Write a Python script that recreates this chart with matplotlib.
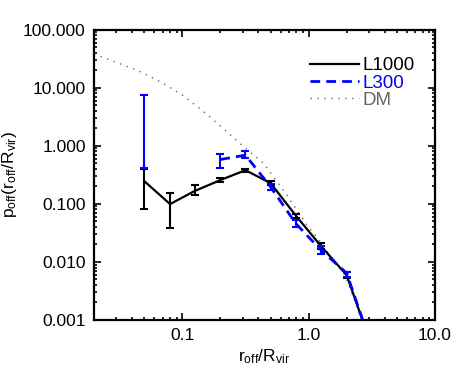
import numpy as np
import matplotlib
matplotlib.use("Agg")
import matplotlib.pyplot as plt
from matplotlib.ticker import LogLocator, FixedLocator, FixedFormatter, NullFormatter

plt.rcParams['font.family'] = ['Liberation Sans', 'DejaVu Sans']
plt.rcParams['mathtext.fontset'] = 'custom'
plt.rcParams['mathtext.rm'] = 'Liberation Sans'
plt.rcParams['mathtext.it'] = 'Liberation Sans'

# L1000 (black, solid)
l1000_x = [0.05, 0.08, 0.125, 0.2, 0.316, 0.5, 0.79, 1.25, 2.0, 3.16]
l1000_y = [0.246, 0.099, 0.166, 0.256, 0.38, 0.227, 0.063, 0.0188, 0.0059, 0.00035]
l1000_lo = [0.080, 0.038, 0.141, 0.235, 0.36, 0.21, 0.058, 0.017, 0.0053, 0.00035]
l1000_hi = [0.40, 0.151, 0.21, 0.28, 0.40, 0.245, 0.068, 0.021, 0.0066, 0.00035]

# L300 (blue, dashed); first bin has only an error bar
l300_x = [0.05, 0.2, 0.316, 0.5, 0.79, 1.25, 2.0, 3.16]
l300_y = [np.nan, 0.58, 0.69, 0.196, 0.046, 0.016, 0.0064, 0.00035]
l300_lo = [0.42, 0.42, 0.62, 0.175, 0.040, 0.0136, 0.0055, 0.00035]
l300_hi = [7.5, 0.72, 0.80, 0.22, 0.052, 0.0187, 0.0067, 0.00035]

# DM (gray, dotted)
dm_x = [0.02, 0.044, 0.067, 0.1, 0.147, 0.21, 0.3, 0.44, 0.66, 0.95, 1.2, 1.95, 2.8]
dm_y = [38, 20, 12.7, 7.5, 3.9, 2.0, 1.0, 0.5, 0.15, 0.046, 0.024, 0.0058, 0.0007]

xticks = [0.1, 1.0, 10.0]
xticklabels = ['0.1', '1.0', '10.0']
yticks = [0.001, 0.01, 0.1, 1, 10, 100]
yticklabels = ['0.001', '0.010', '0.100', '1.000', '10.000', '100.000']

fig = plt.figure(figsize=(4.63, 3.80), dpi=100)
ax = fig.add_axes([0.203, 0.158, 0.7365, 0.764])

ax.plot(dm_x, dm_y, color='#666666', lw=1.0, linestyle=(0, (1, 4)), label='DM')

ax.plot(l1000_x, l1000_y, color='black', lw=1.6, label='L1000')
ly = np.array(l1000_y)
ax.errorbar(l1000_x, ly, yerr=[ly - np.array(l1000_lo), np.array(l1000_hi) - ly],
            fmt='none', ecolor='black', elinewidth=1.5, capsize=3, capthick=1.5)

by = np.array(l300_y)
ax.plot(l300_x, by, color='#0000ff', lw=2.0, dashes=(3.5, 2.2), label='L300')
bmid = np.where(np.isnan(by), np.array(l300_lo), by)
ax.errorbar(l300_x, bmid, yerr=[bmid - np.array(l300_lo), np.array(l300_hi) - bmid],
            fmt='none', ecolor='#0000ff', elinewidth=1.5, capsize=3, capthick=1.5)

ax.set_xscale('log')
ax.set_yscale('log')
ax.set_xlim(0.02, 10)
ax.set_ylim(0.001, 100)

ax.xaxis.set_major_locator(FixedLocator(xticks))
ax.xaxis.set_major_formatter(FixedFormatter(xticklabels))
ax.yaxis.set_major_locator(FixedLocator(yticks))
ax.yaxis.set_major_formatter(FixedFormatter(yticklabels))
ax.xaxis.set_minor_locator(LogLocator(base=10, subs=np.arange(2, 10), numticks=20))
ax.yaxis.set_minor_locator(LogLocator(base=10, subs=np.arange(2, 10), numticks=20))
ax.xaxis.set_minor_formatter(NullFormatter())
ax.yaxis.set_minor_formatter(NullFormatter())

ax.tick_params(which='both', direction='in', top=True, right=True, width=1.2, labelsize=12.5)
ax.tick_params(which='major', length=5, pad=6)
ax.tick_params(which='minor', length=2.5)
for s in ax.spines.values():
    s.set_linewidth(1.6)

ax.set_xlabel(r'$\mathregular{r_{off}/R_{vir}}$', fontsize=12.5, labelpad=3)
ax.set_ylabel(r'$\mathregular{p_{off}(r_{off}/R_{vir})}$', fontsize=12.5, labelpad=3)

h, l = ax.get_legend_handles_labels()
order = [1, 2, 0]
ax.legend([h[i] for i in order], [l[i] for i in order], loc='upper right',
          bbox_to_anchor=(0.98, 0.95), frameon=False, fontsize=13.5,
          labelcolor='linecolor', handlelength=2.6, handletextpad=0.2,
          labelspacing=0.0, borderpad=0.2)

fig.savefig('out.png', dpi=100)
